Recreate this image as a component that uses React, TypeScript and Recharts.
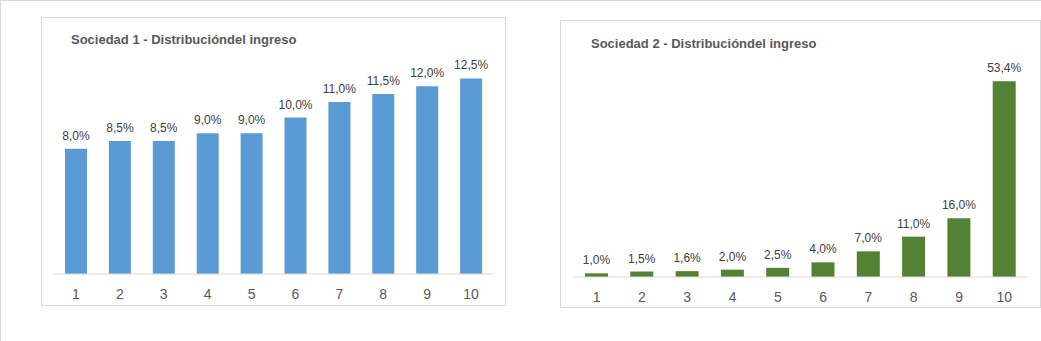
import { BarChart, Bar, XAxis, YAxis, LabelList } from 'recharts';

const deciles = ['1', '2', '3', '4', '5', '6', '7', '8', '9', '10'];
const sociedad1 = [8.0, 8.5, 8.5, 9.0, 9.0, 10.0, 11.0, 11.5, 12.0, 12.5];
const sociedad2 = [1.0, 1.5, 1.6, 2.0, 2.5, 4.0, 7.0, 11.0, 16.0, 53.4];

const data1 = deciles.map((d, i) => ({ decil: d, valor: sociedad1[i] }));
const data2 = deciles.map((d, i) => ({ decil: d, valor: sociedad2[i] }));

const font = '"Liberation Sans", Arial, sans-serif';
const pct = (v: any) => Number(v).toFixed(1).replace('.', ',') + '%';

interface PanelProps {
  title: string;
  data: { decil: string; valor: number }[];
  color: string;
  max: number;
  left: number;
  top: number;
  width: number;
  height: number;
  titleX: number;
  titleY: number;
  plotTop: number;
  side: number;
  axisH: number;
  barSize: number;
}

function Panel(p: PanelProps) {
  return (
    <div
      style={{
        position: 'absolute',
        left: p.left,
        top: p.top,
        width: p.width,
        height: p.height,
        boxSizing: 'border-box',
        border: '1px solid #d9d9d9',
        background: '#fff',
      }}
    >
      <div
        style={{
          position: 'absolute',
          left: p.titleX,
          top: p.titleY,
          fontFamily: font,
          fontWeight: 'bold',
          fontSize: 13,
          color: '#595959',
          whiteSpace: 'nowrap',
          lineHeight: '15px',
        }}
      >
        {p.title}
      </div>
      <div style={{ position: 'absolute', left: 0, top: 0 }}>
        <BarChart
          width={p.width - 2}
          height={p.height - 2}
          data={p.data}
          margin={{ top: p.plotTop, right: p.side, left: p.side, bottom: 0 }}
          barCategoryGap={0}
        >
          <XAxis
            dataKey="decil"
            height={p.axisH}
            axisLine={{ stroke: '#d9d9d9' }}
            tickLine={false}
            tickSize={0}
            tickMargin={15}
            tick={{ fill: '#595959', fontSize: 14, fontFamily: font }}
            interval={0}
          />
          <YAxis hide domain={[0, p.max]} />
          <Bar dataKey="valor" fill={p.color} barSize={p.barSize} isAnimationActive={false}>
            <LabelList
              dataKey="valor"
              position="top"
              offset={9}
              formatter={pct}
              style={{ fill: '#404040', fontSize: 12, fontFamily: font }}
            />
          </Bar>
        </BarChart>
      </div>
    </div>
  );
}

export default function App() {
  return (
    <div
      style={{
        position: 'absolute',
        left: 0,
        top: 0,
        width: 1041,
        height: 341,
        boxSizing: 'border-box',
        borderTop: '1px solid #d9d9d9',
        borderLeft: '1px solid #d9d9d9',
        background: '#fff',
      }}
    >
      <Panel
        title="Sociedad 1 - Distribucióndel ingreso"
        data={data1}
        color="#5B9BD5"
        max={14}
        left={40}
        top={16}
        width={465}
        height={289}
        titleX={29}
        titleY={14}
        plotTop={37}
        side={12}
        axisH={31}
        barSize={22}
      />
      <Panel
        title="Sociedad 2 - Distribucióndel ingreso"
        data={data2}
        color="#548235"
        max={60}
        left={559}
        top={19}
        width={481}
        height={288}
        titleX={30}
        titleY={15}
        plotTop={36}
        side={13}
        axisH={30}
        barSize={23}
      />
    </div>
  );
}
